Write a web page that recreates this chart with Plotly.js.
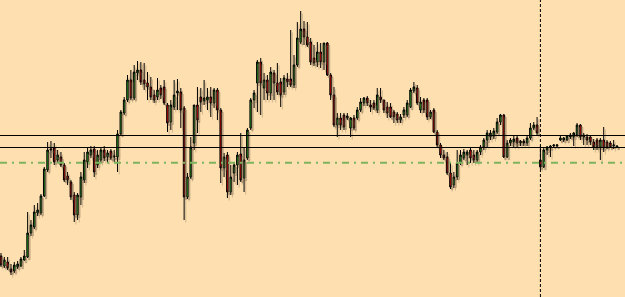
<!DOCTYPE html>
<html>
<head>
<meta charset="utf-8">
<script src="https://cdn.plot.ly/plotly-3.0.1.min.js"></script>
<style>
html,body{margin:0;padding:0;background:#FDDFB0;}
#chart{width:625px;height:297px;}
</style>
</head>
<body>
<div id="chart"></div>
<script>
// OHLC values (arbitrary price units)
const openV = [44,34,38,31,29,33,34,40,43,67,73,87,87,104,130,150,152,140,143,135,124,118,105,85,103,120,138,145,151,135,140,150,143,149,143,143,166,187,200,220,202,227,230,220,217,213,205,203,212,213,195,178,193,207,208,192,103,123,157,195,203,199,200,203,197,210,190,132,145,108,127,135,146,122,142,172,200,217,238,212,220,207,227,217,218,208,221,221,215,235,258,271,263,258,242,238,248,238,257,225,205,175,182,185,182,172,182,182,190,197,202,195,197,190,203,200,193,193,188,186,180,185,185,193,209,212,190,200,200,183,190,168,155,145,143,127,115,123,137,142,145,150,145,140,148,153,160,163,164,168,178,185,143,157,158,162,157,159,157,162,172,175,140,133,150,152,154,154,160,160,160,163,163,165,175,163,163,163,158,160,153,160,158,157,154,153];
const highV = [47,43,43,36,38,39,43,50,88,80,95,97,106,133,158,159,157,150,148,137,128,120,108,107,128,148,153,154,154,150,153,154,150,151,150,170,190,203,225,230,235,239,238,237,228,223,210,222,215,220,197,200,220,221,212,194,127,163,195,213,212,220,212,213,212,212,192,147,148,135,138,148,167,153,172,202,210,240,242,227,225,233,230,237,222,225,227,270,245,278,289,279,278,262,255,258,257,257,258,227,213,187,187,187,187,183,185,193,202,203,204,200,200,212,212,200,198,197,190,188,186,193,200,212,218,215,203,202,202,190,192,170,157,150,148,137,128,150,150,151,150,152,150,150,155,162,170,170,172,182,186,186,160,162,164,164,160,161,165,177,178,183,154,153,154,155,156,156,164,163,165,167,168,177,176,167,166,165,161,162,162,173,160,159,160,154];
const lowV = [33,32,30,25,27,31,33,39,42,64,71,84,85,103,128,142,135,137,133,118,115,100,78,80,95,117,132,142,123,132,137,139,138,140,138,128,165,185,198,200,200,220,215,210,200,200,197,200,201,195,168,170,190,190,172,80,101,121,150,167,188,195,190,183,192,180,117,123,102,105,118,115,118,108,140,170,192,188,185,200,200,200,200,205,193,205,213,213,212,233,256,255,253,235,234,233,232,230,224,200,173,163,170,170,180,163,170,180,188,194,194,188,190,187,197,187,182,182,177,177,177,182,183,192,207,195,187,187,180,181,167,153,142,140,125,111,112,120,135,140,135,137,137,137,145,150,153,160,161,166,175,142,142,154,153,153,154,154,154,160,170,165,131,132,145,143,152,153,159,158,159,161,154,163,160,155,155,155,150,150,140,148,151,152,151,152];
const closeV = [35,40,32,28,35,36,41,44,67,75,88,90,104,131,150,151,138,145,135,120,120,103,85,105,123,140,148,150,128,145,150,142,147,142,144,166,188,200,220,202,228,230,218,216,213,203,200,210,205,197,177,195,205,209,190,103,123,153,195,180,198,202,203,197,210,190,132,143,108,123,135,145,120,140,170,200,207,238,217,220,207,228,217,208,205,222,218,215,235,262,271,263,255,238,237,248,238,257,225,205,175,182,175,173,184,182,172,190,198,202,197,193,192,205,200,190,187,183,183,180,183,190,197,210,213,197,198,190,183,188,168,155,145,142,127,113,123,137,145,148,148,142,140,148,153,160,167,167,169,178,185,143,157,160,161,157,159,157,162,172,175,167,133,150,153,154,155,155,162,162,164,165,167,175,163,165,160,158,153,153,160,152,153,153,155,154];
// reference levels
const resistanceLevels = [164.5, 152.5];
const supportLevel = [137.3];
const markerBar = [162];

const idx = openV.map((_, i) => i);

// drop-shadow copy of the candles on an overlaid axis (drawn slightly right and lower)
const shadowDx = 0.5, shadowDy = 2.5;
const shadowColor = 'rgba(125,105,80,0.35)';
const shadow = {
  type: 'candlestick', xaxis: 'x2',
  x: idx.map(v => v + shadowDx),
  open: openV.map(v => v - shadowDy), high: highV.map(v => v - shadowDy),
  low: lowV.map(v => v - shadowDy), close: closeV.map(v => v - shadowDy),
  increasing: {line: {color: shadowColor, width: 1}, fillcolor: shadowColor},
  decreasing: {line: {color: shadowColor, width: 1}, fillcolor: shadowColor},
  whiskerwidth: 0, hoverinfo: 'none', showlegend: false
};

const candles = {
  type: 'candlestick', xaxis: 'x',
  x: idx, open: openV, high: highV, low: lowV, close: closeV,
  increasing: {line: {color: '#000000', width: 1}, fillcolor: '#1E9A1E'},
  decreasing: {line: {color: '#000000', width: 1}, fillcolor: '#D80000'},
  whiskerwidth: 0,
  hoverinfo: 'none',
  showlegend: false
};

const shapes = [];
resistanceLevels.forEach(v => shapes.push({type:'line', xref:'paper', yref:'y', x0:0, x1:1, y0:v, y1:v, line:{color:'#000000', width:1}}));
supportLevel.forEach(v => shapes.push({type:'line', xref:'paper', yref:'y', x0:0, x1:1, y0:v, y1:v, line:{color:'#7DB45E', width:2, dash:'7px,5px,2px,5px'}}));
markerBar.forEach(v => shapes.push({type:'line', xref:'x', yref:'paper', x0:v, x1:v, y0:0, y1:1, line:{color:'#000000', width:1, dash:'3px,2px'}}));

const xr = [-0.3, 187.4];
const layout = {
  width: 625, height: 297,
  margin: {l:0, r:0, t:0, b:0, pad:0},
  paper_bgcolor: '#FDDFB0',
  plot_bgcolor: '#FDDFB0',
  xaxis: {range: xr, visible: false, rangeslider: {visible: false}, fixedrange: true},
  xaxis2: {range: xr, visible: false, overlaying: 'x', rangeslider: {visible: false}, fixedrange: true},
  yaxis: {range: [3, 300], visible: false, fixedrange: true},
  shapes: shapes,
  showlegend: false
};

Plotly.newPlot('chart', [shadow, candles], layout, {staticPlot: true, displayModeBar: false});
</script>
</body>
</html>
